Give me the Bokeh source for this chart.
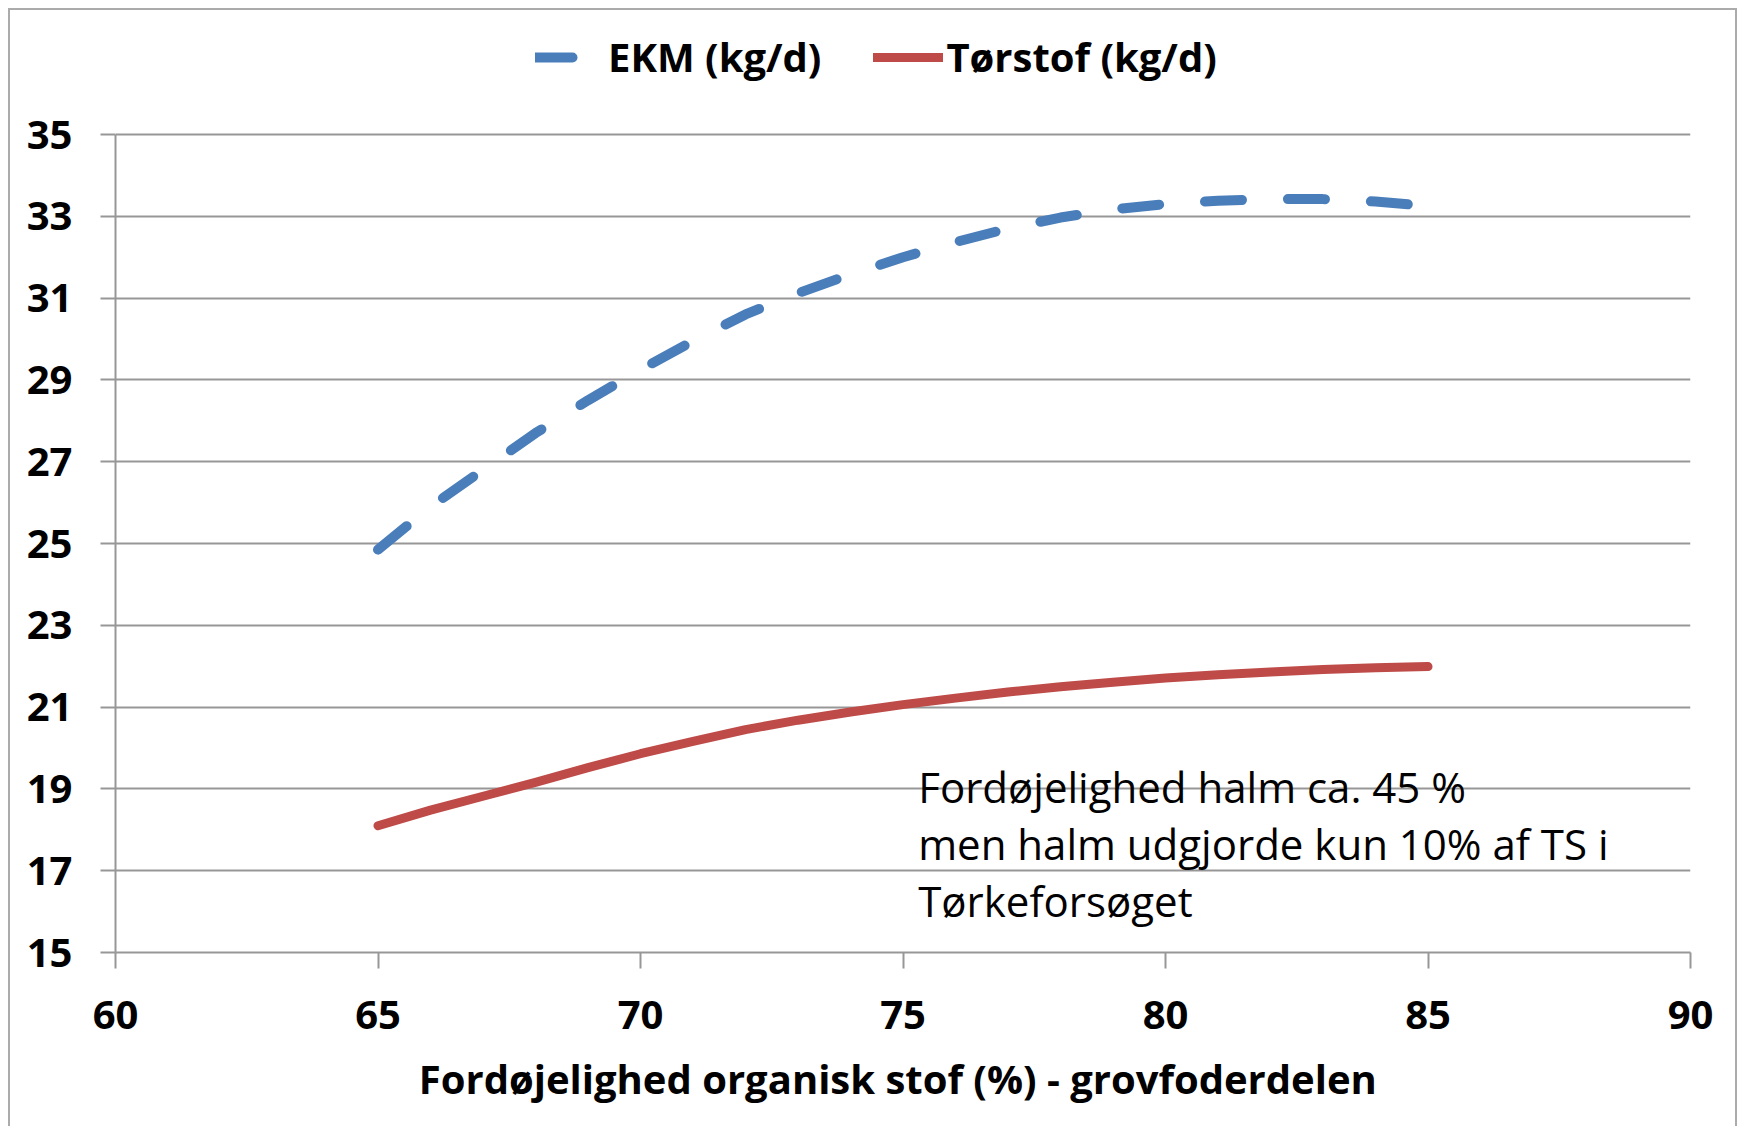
from bokeh.plotting import figure
from bokeh.models import Range1d, FixedTicker, Legend, LegendItem, Label
from bokeh.embed import file_html
from bokeh.resources import INLINE

# ---- data ----
x_pct = [65, 66, 67, 68, 69, 70, 71, 72, 73, 74, 75, 76, 77, 78, 79, 80, 81, 82, 83, 84, 85]
ekm = [24.85, 25.90, 26.80, 27.70, 28.50, 29.25, 29.95, 30.60, 31.12, 31.58, 32.00,
       32.37, 32.70, 32.97, 33.17, 33.30, 33.38, 33.42, 33.42, 33.36, 33.25]
torstof = [18.10, 18.48, 18.82, 19.16, 19.52, 19.86, 20.16, 20.45, 20.68, 20.88, 21.06,
           21.22, 21.37, 21.50, 21.61, 21.71, 21.79, 21.86, 21.92, 21.96, 21.99]
x_ticks = [60, 65, 70, 75, 80, 85, 90]
y_ticks = [15, 17, 19, 21, 23, 25, 27, 29, 31, 33, 35]
series_names = ["EKM (kg/d)", "Tørstof (kg/d)"]
x_title = "Fordøjelighed organisk stof  (%) - grovfoderdelen"
note_lines = ["Fordøjelighed halm ca. 45 %",
              "men halm udgjorde kun 10% af TS i",
              "Tørkeforsøget"]

BLUE = "#4a7ebb"
RED = "#be4b48"
GRID = "#979797"
FONT = "Open Sans"

# frame extends up to the top of the chart (room for the legend); the visible
# axis/grid run from 15 to 35 at ~40.9 px per unit
Y_MIN, Y_MAX = 15, 35
FRAME_TOP_PAD = 4
y_top = Y_MIN + (Y_MAX - Y_MIN) * (952 - (8 + 2 + FRAME_TOP_PAD)) / 818.0

p = figure(width=1729, height=1118, output_backend="svg", toolbar_location=None,
           x_range=Range1d(60, 90), y_range=Range1d(Y_MIN, y_top),
           min_border_left=105, min_border_right=49, min_border_top=FRAME_TOP_PAD,
           min_border_bottom=176,
           background_fill_color="white", border_fill_color="white")
p.margin = (8, 0, 0, 8)
p.styles = {"border-top": "2px solid #ababab", "border-left": "2px solid #ababab",
            "border-right": "2px solid #ababab"}
p.outline_line_color = None

# grid
p.xgrid.visible = False
p.ygrid.ticker = FixedTicker(ticks=y_ticks)
p.ygrid.grid_line_color = GRID
p.ygrid.grid_line_width = 2

# axes
p.xaxis.ticker = FixedTicker(ticks=x_ticks)
p.yaxis.ticker = FixedTicker(ticks=y_ticks)
p.yaxis.bounds = (Y_MIN, Y_MAX)
for ax in (p.xaxis, p.yaxis):
    ax.axis_line_color = GRID
    ax.axis_line_width = 2
    ax.major_tick_line_color = GRID
    ax.major_tick_line_width = 2
    ax.major_tick_in = 0
    ax.minor_tick_line_color = None
    ax.major_label_text_font = FONT
    ax.major_label_text_font_style = "bold"
    ax.major_label_text_font_size = "40px"
    ax.major_label_text_color = "black"
p.xaxis.major_tick_out = 16
p.yaxis.major_tick_out = 15
p.xaxis.major_label_standoff = 32
p.yaxis.major_label_standoff = 28
p.xaxis.axis_label = x_title
p.xaxis.axis_label_text_font = FONT
p.xaxis.axis_label_text_font_style = "bold"
p.xaxis.axis_label_text_font_size = "40px"
p.xaxis.axis_label_text_color = "black"
p.xaxis.axis_label_standoff = 19

# lines
r_ekm = p.line(x_pct, ekm, line_color=BLUE, line_width=10, line_dash="37 46",
               line_cap="round", line_join="round")
r_ts = p.line(x_pct, torstof, line_color=RED, line_width=9,
              line_cap="round", line_join="round")

legend = Legend(items=[LegendItem(label=series_names[0], renderers=[r_ekm]),
                       LegendItem(label=series_names[1], renderers=[r_ts])],
                orientation="horizontal", location=(420, 868),
                label_text_font=FONT, label_text_font_style="bold",
                label_text_font_size="40px", label_text_color="black",
                glyph_width=70, glyph_height=40, label_standoff=3, spacing=52,
                padding=0, margin=0, border_line_alpha=0, background_fill_alpha=0)
p.add_layout(legend)

note_y = [19.06, 17.66, 16.27]
for txt, yy in zip(note_lines, note_y):
    p.add_layout(Label(x=75.29, y=yy, text=txt, text_font=FONT, text_font_size="42px",
                       text_color="black", text_baseline="alphabetic", text_align="left"))

open("out.html", "w").write(file_html(p, INLINE))
